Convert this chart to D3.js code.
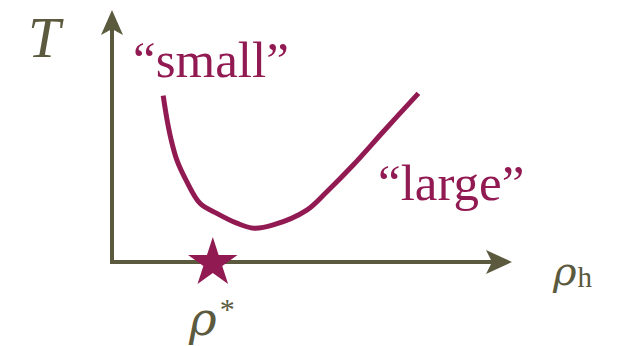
<!DOCTYPE html>
<html>
<head>
<meta charset="utf-8">
<script src="https://cdn.jsdelivr.net/npm/d3@7"></script>
<style>
  body { margin: 0; background: #fff; }
  text { font-family: "Liberation Serif", "DejaVu Serif", serif; }
  .greek { font-family: "DejaVu Serif", serif; }
</style>
</head>
<body>
<script>
var w = 634;
var h = 346;
var axisColor = "#5b5a3e";
var curveColor = "#921a52";

// curve T(rho_h) (arbitrary units)
var rhoVals = [1.28, 1.37, 1.47, 1.62, 1.87, 2.20, 2.62, 3.12, 3.55, 4.03, 4.87, 5.37, 6.03, 6.78, 7.66];
var tVals   = [6.60, 5.70, 4.91, 4.05, 3.19, 2.33, 1.93, 1.54, 1.34, 1.47, 2.06, 2.79, 3.85, 5.17, 6.69];
var rhoStar = 2.52;
var labels = ["\u201Csmall\u201D", "\u201Clarge\u201D"];

var curve = rhoVals.map(function(d, i) { return [d, tVals[i]]; });

var xScale = d3.scaleLinear()
    .domain([0, 10])
    .range([112, 512]);

var yScale = d3.scaleLinear()
    .domain([0, 10])
    .range([262, 10]);

var svg = d3.select("body")
    .append("svg")
    .attr("width", w)
    .attr("height", h);

//Axes with arrow heads
var x0 = xScale(0), y0 = yScale(0);
var xEnd = xScale.range()[1], yEnd = yScale.range()[1];

svg.append("line")
    .attr("x1", x0 - 2).attr("y1", y0)
    .attr("x2", xEnd - 10).attr("y2", y0)
    .attr("stroke", axisColor)
    .attr("stroke-width", 4);

svg.append("line")
    .attr("x1", x0).attr("y1", y0 + 2)
    .attr("x2", x0).attr("y2", yEnd + 10)
    .attr("stroke", axisColor)
    .attr("stroke-width", 4);

svg.append("path")
    .attr("d", "M" + xEnd + "," + y0 +
        "L" + (xEnd - 26) + "," + (y0 - 12) +
        "L" + (xEnd - 20) + "," + y0 +
        "L" + (xEnd - 26) + "," + (y0 + 12) + "Z")
    .attr("fill", axisColor);

svg.append("path")
    .attr("d", "M" + x0 + "," + yEnd +
        "L" + (x0 - 11) + "," + (yEnd + 25) +
        "L" + x0 + "," + (yEnd + 19) +
        "L" + (x0 + 11) + "," + (yEnd + 25) + "Z")
    .attr("fill", axisColor);

//The curve
var line = d3.line()
    .x(function(d) { return xScale(d[0]); })
    .y(function(d) { return yScale(d[1]); })
    .curve(d3.curveCatmullRom);

svg.append("path")
    .datum(curve)
    .attr("d", line)
    .attr("fill", "none")
    .attr("stroke", curveColor)
    .attr("stroke-width", 5)
    .attr("stroke-linecap", "butt");

//Star at rho*
svg.append("path")
    .attr("d", d3.symbol().type(d3.symbolStar).size(760))
    .attr("transform", "translate(" + xScale(rhoStar) + "," + (y0 + 1) + ")")
    .attr("fill", curveColor);

//Labels
svg.append("text")
    .attr("x", 133).attr("y", 77)
    .attr("font-size", "51px")
    .attr("fill", curveColor)
    .text(labels[0]);

svg.append("text")
    .attr("x", 378).attr("y", 200)
    .attr("font-size", "51px")
    .attr("fill", curveColor)
    .text(labels[1]);

svg.append("text")
    .attr("x", 28).attr("y", 57)
    .attr("font-size", "58px")
    .attr("font-style", "italic")
    .attr("fill", axisColor)
    .text("T");

var rhoH = svg.append("text")
    .attr("x", 553).attr("y", 285)
    .attr("fill", axisColor);
rhoH.append("tspan")
    .attr("class", "greek")
    .attr("font-size", "40px")
    .attr("font-style", "italic")
    .text("\u03C1");
rhoH.append("tspan")
    .attr("font-size", "29px")
    .attr("dx", 1)
    .attr("dy", 2)
    .text("h");

var rhoS = svg.append("text")
    .attr("x", 189).attr("y", 335)
    .attr("fill", axisColor);
rhoS.append("tspan")
    .attr("class", "greek")
    .attr("font-size", "47px")
    .attr("font-style", "italic")
    .text("\u03C1");
rhoS.append("tspan")
    .attr("font-size", "30px")
    .attr("dx", 3)
    .attr("dy", -16)
    .text("*");
</script>
</body>
</html>
